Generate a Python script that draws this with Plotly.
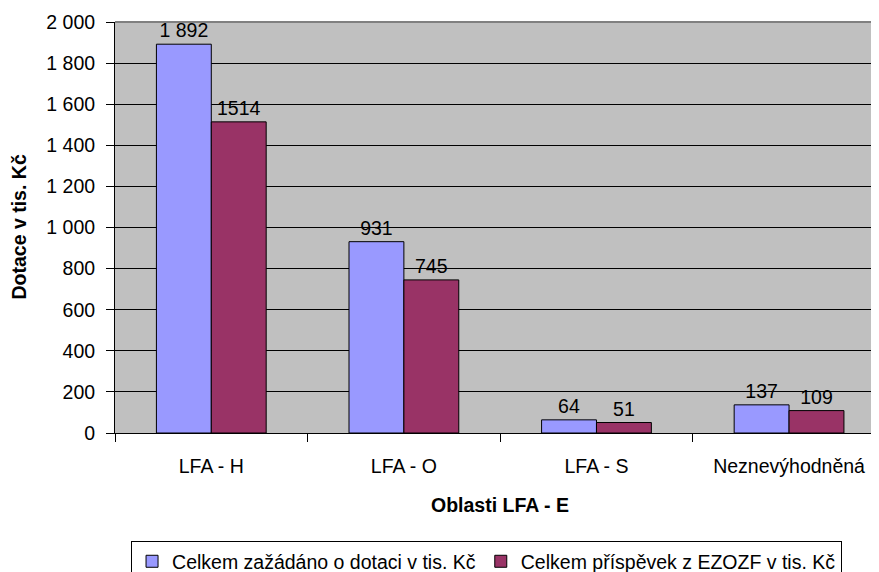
import plotly.graph_objects as go

categories = ["LFA - H", "LFA - O", "LFA - S", "Neznevýhodněná"]
requested = [1892, 931, 64, 137]
contribution = [1514, 745, 51, 109]
requested_labels = ["1 892", "931", "64", "137"]
contribution_labels = ["1514", "745", "51", "109"]
series_names = ["Celkem zažádáno o dotaci v tis. Kč", "Celkem příspěvek z EZOZF v tis. Kč"]
y_ticks = [0, 200, 400, 600, 800, 1000, 1200, 1400, 1600, 1800, 2000]

FONT = "Liberation Sans, Arial, sans-serif"
FS = 19.5

fig = go.Figure()
fig.add_trace(go.Bar(
    x=categories, y=requested, name=series_names[0],
    marker=dict(color="#9999FF", line=dict(color="#000000", width=1)),
    text=requested_labels, textposition="outside",
    textfont=dict(family=FONT, size=FS, color="#000000"),
    cliponaxis=False,
))
fig.add_trace(go.Bar(
    x=categories, y=contribution, name=series_names[1],
    marker=dict(color="#993366", line=dict(color="#000000", width=1)),
    text=contribution_labels, textposition="outside",
    textfont=dict(family=FONT, size=FS, color="#000000"),
    cliponaxis=False,
))

# the page adds an 8px body margin, so the figure is drawn 8px in/down
fig.update_layout(
    width=871, height=564,
    margin=dict(l=107, r=0, t=14, b=139, autoexpand=False),
    paper_bgcolor="#FFFFFF",
    plot_bgcolor="#C0C0C0",
    separators=", ",
    font=dict(family=FONT, size=FS, color="#000000"),
    barmode="group",
    bargap=0.43,
    bargroupgap=0,
    showlegend=True,
    legend=dict(
        orientation="h",
        x=0.021, xanchor="left",
        y=-0.263, yanchor="top",
        bordercolor="#000000", borderwidth=1,
        bgcolor="#FFFFFF",
        font=dict(family=FONT, size=FS, color="#000000"),
        itemwidth=30,
        tracegroupgap=0,
    ),
    xaxis=dict(
        type="category",
        range=[-0.5, 3.467],
        automargin=False,
        showline=True, linecolor="#000000", linewidth=1,
        ticks="outside", tickson="boundaries", ticklen=8, tickcolor="#000000",
        ticklabelstandoff=16,
        showgrid=False,
        tickfont=dict(family=FONT, size=FS, color="#000000"),
    ),
    yaxis=dict(
        range=[0, 2000],
        tickvals=y_ticks,
        tickformat=",d",
        automargin=False,
        showline=True, linecolor="#000000", linewidth=1,
        ticks="outside", ticklen=8, tickcolor="#000000",
        ticklabelstandoff=7,
        showgrid=True, gridcolor="#000000", gridwidth=1,
        zeroline=False,
        tickfont=dict(family=FONT, size=FS, color="#000000"),
    ),
    annotations=[
        dict(text="<b>Dotace v tis. Kč</b>", xref="paper", yref="paper",
             x=0, y=0.5, xshift=-97, xanchor="center", yanchor="middle",
             textangle=-90, showarrow=False,
             font=dict(family=FONT, size=FS, color="#000000")),
        dict(text="<b>Oblasti LFA - E</b>", xref="paper", yref="paper",
             x=0.504, y=0, yshift=-72, xanchor="center", yanchor="middle",
             showarrow=False,
             font=dict(family=FONT, size=FS, color="#000000")),
    ],
    shapes=[
        dict(type="line", xref="paper", yref="paper", x0=0, x1=1, y0=1, y1=1,
             line=dict(color="#808080", width=2)),
    ],
)

fig.write_html("out.html")
